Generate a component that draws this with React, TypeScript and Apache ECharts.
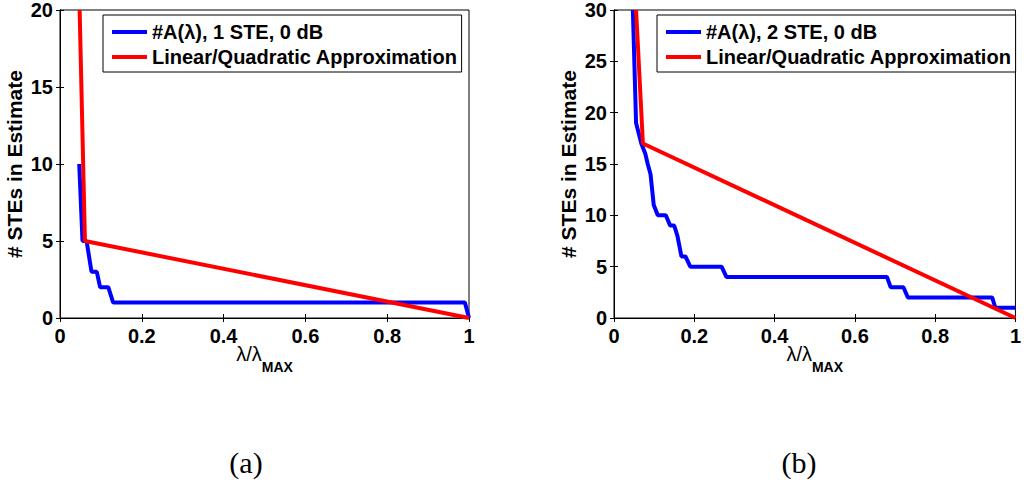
import React, { useEffect, useRef } from "react";
import * as echarts from "echarts";

// ---- data ----
const xTicks = [0, 0.2, 0.4, 0.6, 0.8, 1];

const blueA_x = [0.047, 0.055, 0.065, 0.077, 0.09, 0.098, 0.118, 0.13, 0.99, 1.0];
const blueA_y = [10, 5, 5, 3, 3, 2, 2, 1, 1, 0];
const redA_x = [0.048, 0.061, 1.0];
const redA_y = [20, 5, 0];

const blueB_x = [0.047, 0.055, 0.068, 0.078, 0.084, 0.091, 0.099, 0.109, 0.129, 0.14, 0.15, 0.158, 0.168, 0.178, 0.19, 0.268, 0.28, 0.68, 0.689, 0.721, 0.732, 0.942, 0.95, 1.0];
const blueB_y = [30, 19, 17, 16, 15, 14, 11, 10, 10, 9, 9, 8, 6, 6, 5, 5, 4, 4, 3, 3, 2, 2, 1, 1];
const redB_x = [0.055, 0.072, 1.0];
const redB_y = [30, 17, 0];

const nameBlueA = "#A(λ), 1 STE, 0 dB";
const nameBlueB = "#A(λ), 2 STE, 0 dB";
const nameRed = "Linear/Quadratic Approximation";
const yLabel = "# STEs in Estimate";
const captions = ["(a)", "(b)"];

const zip = (xs: number[], ys: number[]) => xs.map((x, i) => [x, ys[i]]);

const FONT = "'Liberation Sans', Arial, sans-serif";

export default function App() {
  const ref = useRef<HTMLDivElement>(null);
  useEffect(() => {
    document.body.style.margin = "0";
    const chart = echarts.init(ref.current!, null, { renderer: "svg" });

    const grids = [
      { left: 60, top: 10, width: 409, height: 308 },
      { left: 614, top: 10, width: 408, height: 308 },
    ];

    const xAxisBottom = (gi: number) => ({
      type: "value",
      gridIndex: gi,
      position: "bottom",
      min: xTicks[0],
      max: xTicks[xTicks.length - 1],
      interval: 0.2,
      name: "{a|λ/λ}{b|MAX}",
      nameLocation: "middle",
      nameGap: 26,
      nameMoveOverlap: false,
      nameTextStyle: {
        verticalAlign: "top",
        rich: {
          a: { fontFamily: FONT, fontSize: 20, color: "#000", fontWeight: "normal", verticalAlign: "top", lineHeight: 30 },
          b: { fontFamily: FONT, fontSize: 14, color: "#000", fontWeight: "bold", verticalAlign: "bottom", lineHeight: 14 },
        },
      },
      axisLine: { show: true, lineStyle: { color: "#000", width: 1 } },
      axisTick: { show: true, inside: true, length: 4, lineStyle: { color: "#000" } },
      axisLabel: { fontFamily: FONT, fontSize: 20, fontWeight: "bold", color: "#000", margin: 8 },
      splitLine: { show: false },
    });
    const xAxisTop = (gi: number) => ({
      type: "value",
      gridIndex: gi,
      position: "top",
      min: xTicks[0],
      max: xTicks[xTicks.length - 1],
      interval: 0.2,
      axisLine: { show: true, lineStyle: { color: "#000", width: 1 } },
      axisTick: { show: true, inside: true, length: 4, lineStyle: { color: "#000" } },
      axisLabel: { show: false },
      splitLine: { show: false },
    });
    const yAxisLeft = (gi: number, max: number) => ({
      type: "value",
      gridIndex: gi,
      position: "left",
      min: 0,
      max,
      interval: 5,
      name: yLabel,
      nameLocation: "middle",
      nameGap: 35,
      nameTextStyle: { fontFamily: FONT, fontSize: 21, fontWeight: "bold", color: "#000" },
      axisLine: { show: true, lineStyle: { color: "#000", width: 1 } },
      axisTick: { show: true, inside: true, length: 4, lineStyle: { color: "#000" } },
      axisLabel: { fontFamily: FONT, fontSize: 20, fontWeight: "bold", color: "#000", margin: 7 },
      splitLine: { show: false },
    });
    const yAxisRight = (gi: number, max: number) => ({
      type: "value",
      gridIndex: gi,
      position: "right",
      min: 0,
      max,
      interval: 5,
      axisLine: { show: true, lineStyle: { color: "#000", width: 1 } },
      axisTick: { show: true, inside: true, length: 4, lineStyle: { color: "#000" } },
      axisLabel: { show: false },
      splitLine: { show: false },
    });

    const line = (name: string, data: number[][], color: string, xi: number, yi: number) => ({
      type: "line",
      name,
      data,
      xAxisIndex: xi,
      yAxisIndex: yi,
      showSymbol: false,
      symbol: "none",
      clip: true,
      lineStyle: { color, width: 4 },
      itemStyle: { color },
    });

    const legend = (left: number, names: string[]) => ({
      left,
      top: 15,
      orient: "vertical",
      data: names,
      icon: "rect",
      itemWidth: 35,
      itemHeight: 4,
      itemGap: 5,
      padding: [7, 4, 5, 9],
      borderColor: "#000",
      borderWidth: 1,
      backgroundColor: "#fff",
      selectedMode: false,
      textStyle: { fontFamily: FONT, fontSize: 20, fontWeight: "bold", color: "#000", lineHeight: 20 },
    });

    chart.setOption({
      animation: false,
      backgroundColor: "#fff",
      grid: grids.map((g) => ({ ...g, show: true, borderColor: "#000", borderWidth: 1, backgroundColor: "#fff" })),
      xAxis: [xAxisBottom(0), xAxisTop(0), xAxisBottom(1), xAxisTop(1)],
      yAxis: [yAxisLeft(0, 20), yAxisRight(0, 20), yAxisLeft(1, 30), yAxisRight(1, 30)],
      legend: [legend(103, [nameBlueA, nameRed]), legend(657, [nameBlueB, nameRed])],
      series: [
        line(nameBlueA, zip(blueA_x, blueA_y), "#0000ff", 0, 0),
        line(nameRed, zip(redA_x, redA_y), "#ff0000", 0, 0),
        line(nameBlueB, zip(blueB_x, blueB_y), "#0000ff", 2, 2),
        line(nameRed, zip(redB_x, redB_y), "#ff0000", 2, 2),
      ],
      graphic: [
        { type: "text", x: 246, y: 462, style: { text: captions[0], fontFamily: "'Liberation Serif', serif", fontSize: 30, fill: "#000", textAlign: "center", textVerticalAlign: "middle" } },
        { type: "text", x: 799, y: 462, style: { text: captions[1], fontFamily: "'Liberation Serif', serif", fontSize: 30, fill: "#000", textAlign: "center", textVerticalAlign: "middle" } },
      ],
    });
    return () => chart.dispose();
  }, []);
  return <div ref={ref} style={{ position: "fixed", left: 0, top: 0, width: 1024, height: 482 }} />;
}
